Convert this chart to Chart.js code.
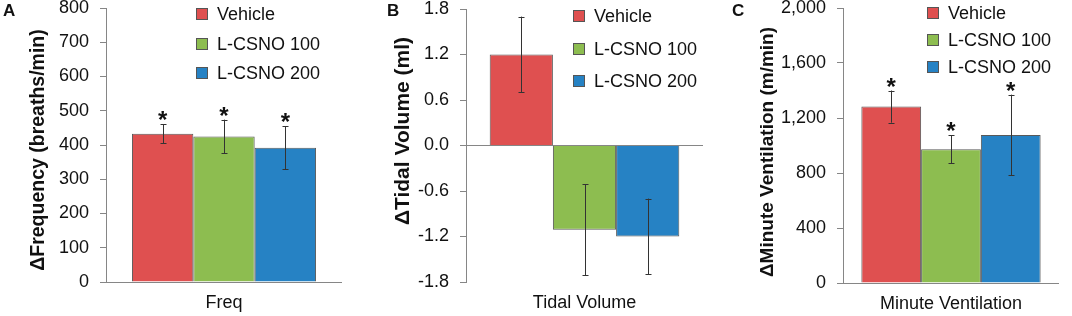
<!DOCTYPE html>
<html>
<head>
<meta charset="utf-8">
<script src="https://cdn.jsdelivr.net/npm/chart.js@4.4.0/dist/chart.umd.min.js"></script>
<style>
  body { margin: 0; background: #fff; font-family: "Liberation Sans", Arial, sans-serif; }
  #wrap { position: relative; width: 1072px; height: 316px; overflow: hidden; }
  .panel { position: absolute; top: 0; height: 316px; }
  .panel canvas { position: absolute; left: 0; top: 0; }
  .letter { position: absolute; top: 1px; font-weight: bold; font-size: 17px; color: #111; }
  .legend { position: absolute; top: 0; font-size: 18px; color: #111; }
  .legend div { position: absolute; white-space: nowrap; line-height: 20px; }
  .legend span { position: absolute; left: 0; top: 4px; width: 12px; height: 12px; border: 1px solid #555; box-sizing: border-box; }
  .legend em { font-style: normal; margin-left: 21px; }
</style>
</head>
<body>
<div id="wrap"></div>
<script>
// groups and colours
var groups = ["Vehicle", "L-CSNO 100", "L-CSNO 200"];
var colors = ["#df5050", "#8dbd50", "#2682c4"];

// A - frequency
var freqMean = [433, 425, 392];
var freqErr = [28, 49, 63];
var freqStar = [true, true, true];
var freqTicks = [0, 100, 200, 300, 400, 500, 600, 700, 800];

// B - tidal volume
var tidalMean = [1.2, -1.11, -1.2];
var tidalErr = [0.5, 0.6, 0.5];
var tidalStar = [false, false, false];
var tidalTicks = [-1.8, -1.2, -0.6, 0, 0.6, 1.2, 1.8];

// C - minute ventilation
var ventMean = [1283, 972, 1077];
var ventErr = [117, 102, 293];
var ventStar = [true, true, true];
var ventTicks = [0, 400, 800, 1200, 1600, 2000];

var FONT = "'Liberation Sans', Arial, sans-serif";
var AXIS = "#868686";

var errorBars = {
  id: "errorBars",
  afterDatasetsDraw: function (chart) {
    var ctx = chart.ctx;
    var y = chart.scales.y;
    ctx.save();
    chart.data.datasets.forEach(function (ds, i) {
      var bar = chart.getDatasetMeta(i).data[0];
      var m = ds.data[0], e = ds.err;
      var top = y.getPixelForValue(m + e);
      var bot = y.getPixelForValue(m - e);
      var x = Math.round(bar.x) + 0.5;
      ctx.strokeStyle = "#333";
      ctx.lineWidth = 1;
      ctx.beginPath();
      ctx.moveTo(x, top); ctx.lineTo(x, bot);
      ctx.moveTo(x - 3, Math.round(top) + 0.5); ctx.lineTo(x + 3, Math.round(top) + 0.5);
      ctx.moveTo(x - 3, Math.round(bot) + 0.5); ctx.lineTo(x + 3, Math.round(bot) + 0.5);
      ctx.stroke();
      if (ds.star) {
        ctx.fillStyle = "#111";
        ctx.font = "bold 24px " + FONT;
        ctx.textAlign = "center";
        ctx.textBaseline = "alphabetic";
        ctx.fillText("*", bar.x, top + 4);
      }
    });
    ctx.restore();
  }
};

// rotated y axis title, placed by hand like the original figure
var yTitle = {
  id: "yTitle",
  afterDraw: function (chart, args, o) {
    var ctx = chart.ctx;
    ctx.save();
    ctx.translate(o.x, o.y);
    ctx.rotate(-Math.PI / 2);
    ctx.font = "bold " + o.size + "px " + FONT;
    ctx.fillStyle = "#111";
    ctx.textAlign = "center";
    ctx.textBaseline = "middle";
    ctx.fillText(o.text, 0, 0);
    ctx.restore();
  }
};

function makePanel(p) {
  var box = document.createElement("div");
  box.className = "panel";
  box.style.left = p.left + "px";
  box.style.width = p.width + "px";
  document.getElementById("wrap").appendChild(box);

  var cv = document.createElement("canvas");
  cv.width = p.width;
  cv.height = 316;
  box.appendChild(cv);

  var letter = document.createElement("div");
  letter.className = "letter";
  letter.style.left = p.letterX + "px";
  letter.textContent = p.letter;
  box.appendChild(letter);

  var lg = document.createElement("div");
  lg.className = "legend";
  lg.style.left = p.legX + "px";
  groups.forEach(function (g, i) {
    var row = document.createElement("div");
    row.style.top = (p.legY[i] - 10) + "px";
    var sq = document.createElement("span");
    sq.style.background = colors[i];
    row.appendChild(sq);
    var t = document.createElement("em");
    t.textContent = g;
    row.appendChild(t);
    lg.appendChild(row);
  });
  box.appendChild(lg);

  var datasets = groups.map(function (g, i) {
    return {
      label: g,
      data: [p.mean[i]],
      err: p.err[i],
      star: p.star[i],
      backgroundColor: colors[i],
      borderColor: "rgba(60,60,60,0.85)",
      borderWidth: 1,
      barPercentage: 1,
      categoryPercentage: p.catPct
    };
  });

  new Chart(cv, {
    type: "bar",
    data: { labels: [p.xLabel], datasets: datasets },
    plugins: [errorBars, yTitle],
    options: {
      responsive: false,
      animation: false,
      devicePixelRatio: 1,
      layout: { padding: { left: 0, right: p.padRight, top: p.padTop, bottom: 0 } },
      plugins: {
        legend: { display: false },
        tooltip: { enabled: false },
        yTitle: { text: p.yTitle, x: p.titleX, y: p.titleY, size: p.titleSize }
      },
      scales: {
        x: {
          grid: { display: false, drawTicks: false },
          border: { display: false },
          ticks: { color: "#111", font: { family: FONT, size: 18 }, padding: 10 },
          afterFit: function (s) { s.height = p.xHeight; s.paddingLeft = 0; s.paddingRight = 0; }
        },
        y: {
          min: p.ticks[0],
          max: p.ticks[p.ticks.length - 1],
          afterBuildTicks: function (s) { s.ticks = p.ticks.map(function (v) { return { value: v }; }); },
          afterFit: function (s) { s.width = p.yWidth; s.paddingTop = 0; s.paddingBottom = 0; },
          border: { display: true, color: AXIS, width: 1 },
          grid: {
            drawOnChartArea: true,
            color: function (c) { return c.tick && c.tick.value === 0 ? AXIS : "rgba(0,0,0,0)"; },
            tickColor: AXIS,
            tickLength: 6
          },
          ticks: {
            color: "#111",
            font: { family: FONT, size: 18 },
            padding: 11,
            callback: p.fmt
          }
        }
      }
    }
  });
}

var panels = [
  { left: 0, width: 357, letter: "A", letterX: 3, legX: 196, legY: [14, 44, 73],
    mean: freqMean, err: freqErr, star: freqStar, ticks: freqTicks,
    fmt: function (v) { return String(v); },
    yTitle: "\u0394Frequency (breaths/min)", xLabel: "Freq",
    yWidth: 106, padRight: 15, padTop: 8, xHeight: 34, catPct: 0.78,
    titleX: 39, titleY: 150, titleSize: 19.5 },
  { left: 357, width: 358, letter: "B", letterX: 30, legX: 216, legY: [16, 49, 81],
    mean: tidalMean, err: tidalErr, star: tidalStar, ticks: tidalTicks,
    fmt: function (v) { return v.toFixed(1); },
    yTitle: "\u0394Tidal Volume (ml)", xLabel: "Tidal Volume",
    yWidth: 109, padRight: 12, padTop: 9, xHeight: 34, catPct: 0.80,
    titleX: 46, titleY: 131, titleSize: 21 },
  { left: 715, width: 357, letter: "C", letterX: 17, legX: 212, legY: [13, 40, 67],
    mean: ventMean, err: ventErr, star: ventStar, ticks: ventTicks,
    fmt: function (v) { return v.toLocaleString("en-US"); },
    yTitle: "\u0394Minute Ventilation (m/min)", xLabel: "Minute Ventilation",
    yWidth: 128, padRight: 13, padTop: 8, xHeight: 33, catPct: 0.83,
    titleX: 53, titleY: 152, titleSize: 19 }
];

panels.forEach(makePanel);
</script>
</body>
</html>
